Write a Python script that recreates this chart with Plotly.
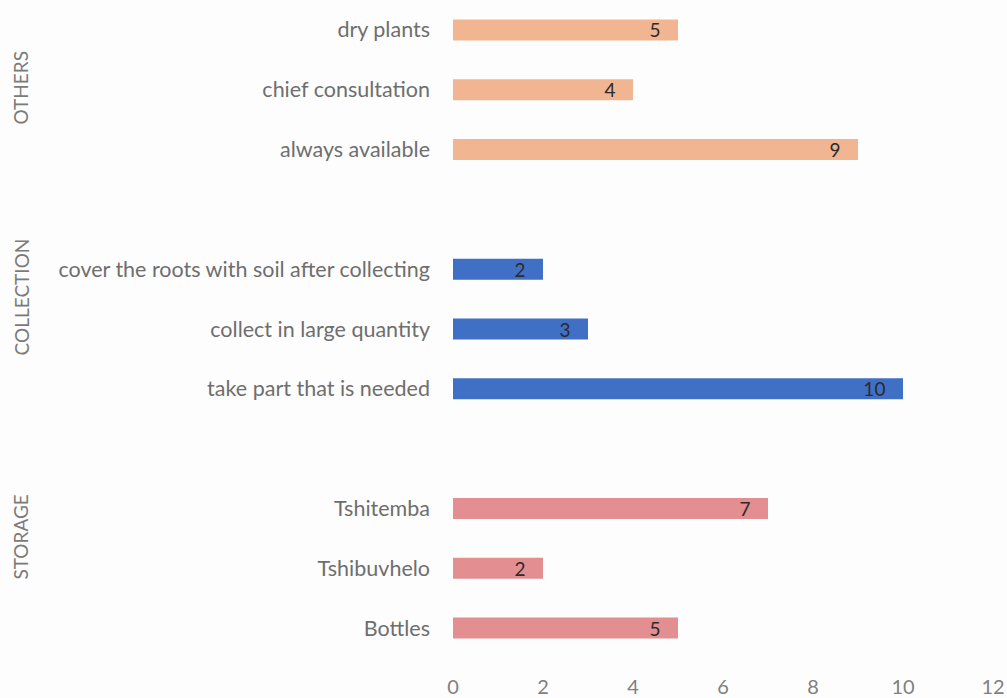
import plotly.graph_objects as go

# Practices grouped by theme, listed top to bottom
others_labels = ["dry plants", "chief consultation", "always available"]
others_values = [5, 4, 9]
collection_labels = ["cover the roots with soil after collecting",
                     "collect in large quantity",
                     "take part that is needed"]
collection_values = [2, 3, 10]
storage_labels = ["Tshitemba", "Tshibuvhelo", "Bottles"]
storage_values = [7, 2, 5]
group_names = ["OTHERS", "COLLECTION", "STORAGE"]
x_ticks = [0, 2, 4, 6, 8, 10, 12]

colors = ["#F2B592", "#3F70C5", "#E38E90"]
groups = [(others_labels, others_values), (collection_labels, collection_values),
          (storage_labels, storage_values)]

# category order with blank spacer rows between groups
gaps = [" ", "  "]
order = others_labels + [gaps[0]] + collection_labels + [gaps[1]] + storage_labels

FONT = "Lato, sans-serif"

fig = go.Figure()
for (labels, values), color in zip(groups, colors):
    fig.add_trace(go.Bar(
        y=labels, x=values, orientation="h",
        marker=dict(color=color, line=dict(width=0)),
        width=0.35,
        # value label with a little right-hand padding inside the bar end
        texttemplate="%{x}\u00a0\u00a0\u00a0",
        textposition="inside", insidetextanchor="end", textangle=0,
        constraintext="none",
        textfont=dict(family=FONT, size=19, color="#2b2b2b"),
        showlegend=False,
    ))

# rotated group titles on the far left (paper-y positions of their centres)
group_y = [0.867, 0.548, 0.183]
for name, gy in zip(group_names, group_y):
    fig.add_annotation(
        text=name, x=0, xref="paper", xshift=-432, xanchor="center",
        y=gy, yref="paper", yanchor="middle", textangle=-90, showarrow=False,
        font=dict(family=FONT, size=19, color="#7a7a7a"),
    )

fig.update_layout(
    width=1007, height=698,
    margin=dict(l=453, r=14, t=0, b=38),
    paper_bgcolor="#fdfdfd", plot_bgcolor="#fdfdfd",
    font=dict(family=FONT, color="#6e6e6e"),
    uniformtext=dict(minsize=19, mode="show"),
)
fig.update_yaxes(
    categoryorder="array", categoryarray=order, autorange="reversed",
    tickfont=dict(size=21.5, color="#6e6e6e"), ticks="", showgrid=False,
    showline=False, zeroline=False, ticklabelstandoff=22,
)
fig.update_xaxes(
    range=[0, 12], tickvals=x_ticks, ticks="", showgrid=False, zeroline=False,
    showline=False, tickfont=dict(size=20, color="#808080"), ticklabelstandoff=15,
)

fig.write_html("out.html")
